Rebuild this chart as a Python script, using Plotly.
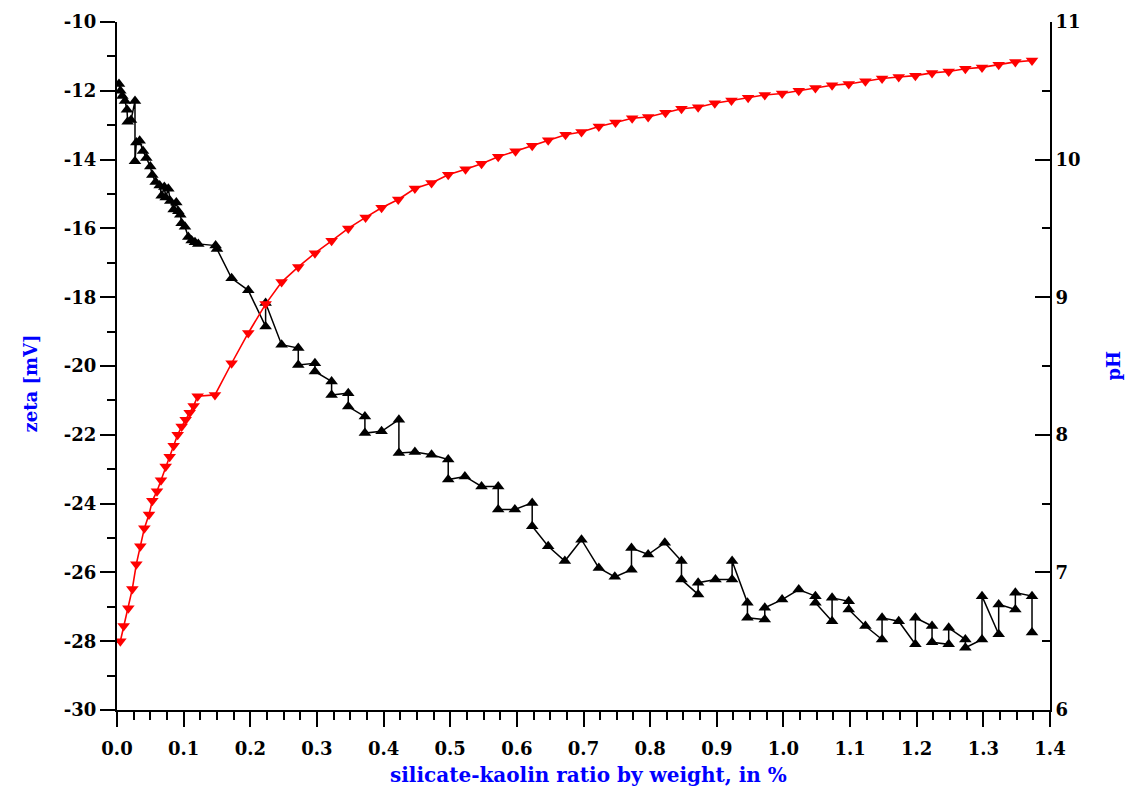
import plotly.graph_objects as go

# pH vs silicate dosage (right axis)
ph_x = [0.005, 0.010, 0.017, 0.023, 0.029, 0.035, 0.041, 0.048, 0.053, 0.060,
        0.066, 0.073, 0.079, 0.085, 0.091, 0.097, 0.103, 0.109, 0.115, 0.121,
        0.147, 0.172, 0.197, 0.223, 0.247, 0.272, 0.297, 0.322, 0.347, 0.373,
        0.397, 0.422, 0.447, 0.472, 0.497, 0.523, 0.547, 0.572, 0.598, 0.623,
        0.647, 0.673, 0.697, 0.723, 0.748, 0.773, 0.797, 0.823, 0.847, 0.872,
        0.897, 0.922, 0.947, 0.972, 0.998, 1.023, 1.048, 1.073, 1.098, 1.123,
        1.148, 1.173, 1.198, 1.223, 1.248, 1.273, 1.298, 1.323, 1.348, 1.373]
ph_y = [6.50, 6.61, 6.74, 6.88, 7.06, 7.19, 7.32, 7.42, 7.52, 7.59,
        7.67, 7.77, 7.84, 7.92, 8.00, 8.06, 8.11, 8.16, 8.21, 8.28,
        8.29, 8.52, 8.74, 8.95, 9.11, 9.22, 9.32, 9.41, 9.50, 9.58,
        9.65, 9.71, 9.79, 9.83, 9.89, 9.93, 9.97, 10.02, 10.06, 10.10,
        10.14, 10.18, 10.20, 10.24, 10.27, 10.30, 10.31, 10.34, 10.37, 10.38,
        10.41, 10.43, 10.45, 10.47, 10.48, 10.50, 10.52, 10.54, 10.55, 10.57,
        10.59, 10.60, 10.61, 10.63, 10.64, 10.66, 10.67, 10.69, 10.71, 10.72]

# zeta potential vs silicate dosage (left axis), in measurement order
zeta_x = [0.003, 0.005, 0.008, 0.012, 0.015, 0.016, 0.021, 0.027, 0.027, 0.029,
          0.034, 0.039, 0.044, 0.050, 0.053, 0.058, 0.064, 0.067, 0.071, 0.073,
          0.077, 0.080, 0.085, 0.089, 0.092, 0.095, 0.097, 0.102, 0.107, 0.112,
          0.117, 0.122, 0.148, 0.150, 0.172, 0.197, 0.223, 0.223, 0.247, 0.272,
          0.272, 0.297, 0.297, 0.322, 0.322, 0.347, 0.347, 0.372, 0.372, 0.397,
          0.423, 0.423, 0.447, 0.472, 0.497, 0.497, 0.522, 0.547, 0.572, 0.572,
          0.597, 0.623, 0.623, 0.647, 0.672, 0.697, 0.723, 0.747, 0.772, 0.772,
          0.797, 0.822, 0.847, 0.847, 0.872, 0.872, 0.898, 0.923, 0.923, 0.946,
          0.946, 0.972, 0.972, 0.998, 1.023, 1.048, 1.048, 1.073, 1.073, 1.098,
          1.098, 1.123, 1.148, 1.148, 1.173, 1.198, 1.198, 1.223, 1.223, 1.248,
          1.248, 1.273, 1.273, 1.298, 1.298, 1.323, 1.323, 1.348, 1.348, 1.373,
          1.373]
zeta_y = [-11.80, -12.00, -12.15, -12.30, -12.55, -12.90, -12.85, -12.30, -14.05, -13.50,
          -13.45, -13.75, -13.95, -14.20, -14.45, -14.65, -14.75, -15.05, -14.80, -15.10,
          -14.85, -15.20, -15.45, -15.25, -15.50, -15.60, -15.85, -15.95, -16.25, -16.35,
          -16.40, -16.45, -16.50, -16.60, -17.45, -17.80, -18.85, -18.17, -19.38, -19.48,
          -19.97, -19.92, -20.16, -20.45, -20.84, -20.79, -21.18, -21.47, -21.95, -21.90,
          -21.56, -22.53, -22.50, -22.58, -22.72, -23.30, -23.21, -23.50, -23.50, -24.17,
          -24.17, -23.98, -24.66, -25.24, -25.67, -25.05, -25.87, -26.13, -25.92, -25.29,
          -25.48, -25.14, -25.67, -26.21, -26.64, -26.30, -26.21, -26.21, -25.67, -26.88,
          -27.32, -27.37, -27.03, -26.79, -26.50, -26.69, -26.88, -27.42, -26.74, -26.84,
          -27.08, -27.56, -27.95, -27.32, -27.42, -28.09, -27.32, -27.56, -28.03, -28.09,
          -27.61, -27.95, -28.19, -27.95, -26.69, -27.80, -26.93, -27.08, -26.59, -26.69,
          -27.75]

x_ticks = [0.0, 0.1, 0.2, 0.3, 0.4, 0.5, 0.6, 0.7, 0.8, 0.9, 1.0, 1.1, 1.2, 1.3, 1.4]
x_tick_text = ["0.0", "0.1", "0.2", "0.3", "0.4", "0.5", "0.6", "0.7",
               "0.8", "0.9", "1.0", "1.1", "1.2", "1.3", "1.4"]
zeta_ticks = [-30, -28, -26, -24, -22, -20, -18, -16, -14, -12, -10]
zeta_tick_text = ["-30", "-28", "-26", "-24", "-22", "-20", "-18", "-16", "-14", "-12", "-10"]
ph_ticks = [6, 7, 8, 9, 10, 11]
ph_tick_text = ["6", "7", "8", "9", "10", "11"]

TICK_FONT = dict(family="DejaVu Serif", size=18, color="black", weight="bold")
TITLE_FONT = dict(family="DejaVu Serif", size=18, color="#0000ff", weight="bold")
XTITLE_FONT = dict(family="DejaVu Serif", size=20, color="#0000ff", weight="bold")

fig = go.Figure()

fig.add_trace(go.Scatter(
    x=zeta_x, y=zeta_y, mode="lines+markers",
    line=dict(color="black", width=1.5),
    marker=dict(symbol="triangle-up", size=11, color="black"),
    yaxis="y", showlegend=False,
))

fig.add_trace(go.Scatter(
    x=ph_x, y=ph_y, mode="lines+markers",
    line=dict(color="#ff0000", width=1.6),
    marker=dict(symbol="triangle-down", size=11, color="#ff0000"),
    yaxis="y2", showlegend=False,
))

fig.update_layout(
    width=1137, height=798,
    margin=dict(l=117, r=87, t=22, b=88, autoexpand=False),
    paper_bgcolor="white", plot_bgcolor="white",
    xaxis=dict(
        range=[0, 1.4], tickmode="array", tickvals=x_ticks, ticktext=x_tick_text,
        showgrid=False, zeroline=False, showline=True, linecolor="black", linewidth=2,
        ticks="outside", ticklen=15, tickwidth=2, tickcolor="black",
        tickfont=TICK_FONT, ticklabelstandoff=6,
        minor=dict(dtick=0.025, ticks="outside", ticklen=8, tickwidth=2, tickcolor="black"),
    ),
    yaxis=dict(
        range=[-30, -10], tickmode="array", tickvals=zeta_ticks, ticktext=zeta_tick_text,
        showgrid=False, zeroline=False, showline=True, linecolor="black", linewidth=2,
        ticks="outside", ticklen=15, tickwidth=2, tickcolor="black",
        tickfont=TICK_FONT,
        minor=dict(dtick=1, ticks="outside", ticklen=8, tickwidth=2, tickcolor="black"),
    ),
    yaxis2=dict(
        range=[6, 11], tickmode="array", tickvals=ph_ticks, ticktext=ph_tick_text,
        overlaying="y", side="right",
        showgrid=False, zeroline=False, showline=True, linecolor="black", linewidth=2,
        ticks="inside", ticklen=15, tickwidth=2, tickcolor="black",
        tickfont=TICK_FONT,
        minor=dict(dtick=0.5, ticks="inside", ticklen=8, tickwidth=2, tickcolor="black"),
    ),
    annotations=[
        dict(text="zeta [mV]", xref="paper", yref="paper", x=-0.093, y=0.475,
             textangle=-90, showarrow=False, font=TITLE_FONT,
             xanchor="center", yanchor="middle"),
        dict(text="pH", xref="paper", yref="paper", x=1.067, y=0.50,
             textangle=-90, showarrow=False, font=TITLE_FONT,
             xanchor="center", yanchor="middle"),
        dict(text="silicate-kaolin ratio by weight, in %", xref="paper", yref="paper",
             x=0.505, y=-0.094, showarrow=False, font=XTITLE_FONT,
             xanchor="center", yanchor="middle"),
    ],
)

fig.write_html("out.html")
